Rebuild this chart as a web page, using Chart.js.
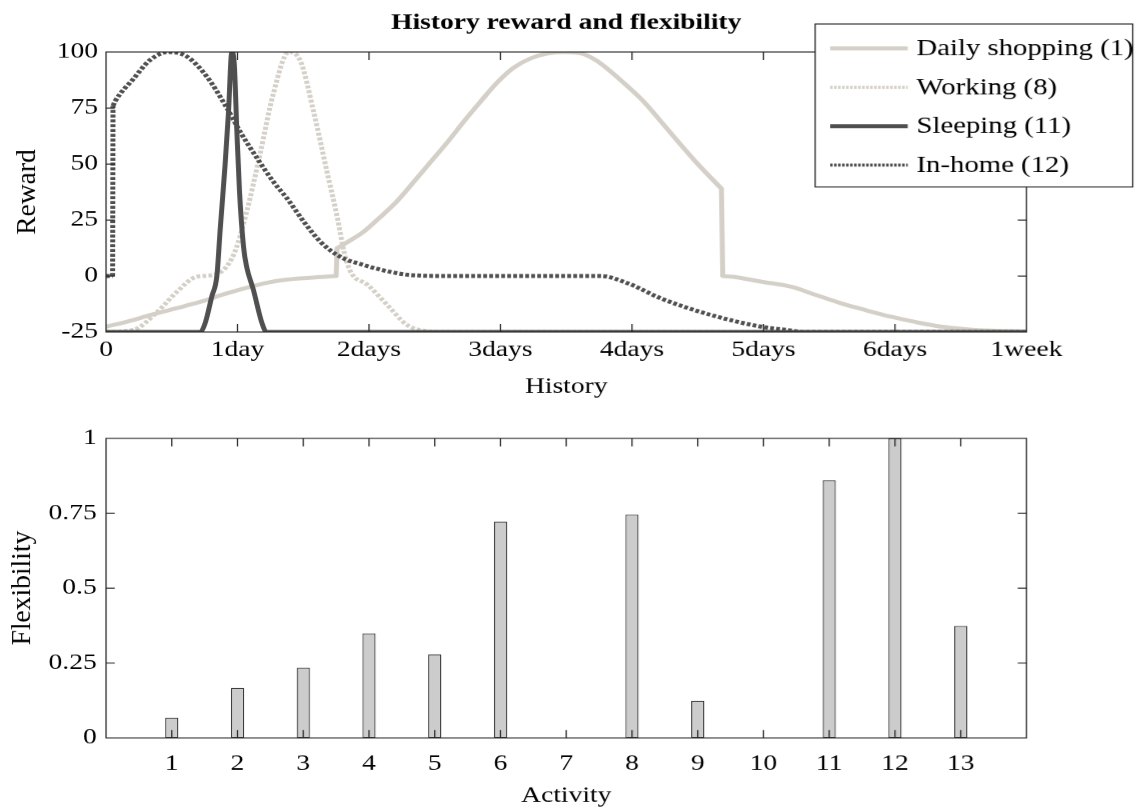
<!DOCTYPE html>
<html>
<head>
<meta charset="utf-8">
<script src="https://cdn.jsdelivr.net/npm/chart.js@4/dist/chart.umd.min.js"></script>
<style>
  html, body { margin: 0; padding: 0; background: #fff; overflow: hidden; }
  #wrap { position: relative; width: 1141px; height: 809px; }
  /* text in the reference is wide, so the canvases are stretched sideways */
  canvas { position: absolute; left: 0; transform-origin: 0 0; transform: scaleX(1.25); }
  #rewardChart { top: 0; }
  #flexChart { top: 400px; }
</style>
</head>
<body>
<div id="wrap">
  <canvas id="rewardChart" width="913" height="400"></canvas>
  <canvas id="flexChart" width="913" height="409"></canvas>
</div>
<script>
const STRETCH = 1.25;

// x ticks of the history plot (in days)
const dayTicks = ['0', '1day', '2days', '3days', '4days', '5days', '6days', '1week'];

// Daily shopping (1)
const shopDays   = [0, 0.17, 0.34, 0.52, 0.72, 0.9, 1.1, 1.22, 1.35, 1.55, 1.75,
                    1.757, 1.85, 1.96, 2.08, 2.21, 2.34, 2.47, 2.6, 2.72, 2.85, 2.98, 3.1, 3.23, 3.35, 3.48,
                    3.61, 3.72, 3.84, 3.96, 4.09, 4.22, 4.35, 4.5, 4.68,
                    4.69, 4.8, 4.98, 5.21, 5.4, 5.59, 5.78, 5.97, 6.16, 6.35, 6.55, 6.73, 7.0];
const shopReward = [-22.6, -20.2, -17.4, -14.6, -11.5, -8.1, -4.8, -3.1, -1.8, -0.8, 0,
                    12.4, 15.6, 19.8, 26, 33.2, 42, 51, 60, 68.9, 78, 86.7, 93, 97.2, 99.3, 100,
                    99.4, 96.5, 91.2, 85, 77.8, 69, 60, 50, 39,
                    0, -0.6, -2.5, -4.8, -8.5, -12.2, -15.3, -18.2, -20.6, -22.6, -23.8, -24.4, -24.8];

// Working (8)
const workDays   = [0, 0.21, 0.39, 0.54, 0.69, 0.82, 0.97, 1.07, 1.17, 1.27, 1.39, 1.48, 1.58, 1.68, 1.76, 1.81, 1.86, 1.99, 2.14, 2.29, 2.44, 2.6, 7];
const workReward = [-25, -24, -16, -7, -0.3, 0.5, 9.4, 28.7, 54, 80.8, 100, 95.7, 73, 46.6, 25.8, 10.8, 1.9, -4, -13, -21.9, -24.6, -25, -25];

// Sleeping (11)
const sleepDays   = [0, 0.716, 0.754, 0.805, 0.843, 0.868, 0.906, 0.931, 0.957, 0.975, 0.995, 1.015, 1.046, 1.07, 1.12, 1.186, 1.22, 7];
const sleepReward = [-25, -25, -21, -9, 0, 20.5, 50, 72.6, 100, 95, 65, 38, 13, 4, -6, -21, -25, -25];

// In-home (12)
const homeDays   = [0, 0.05, 0.053, 0.069, 0.208, 0.335, 0.475, 0.614, 0.767, 0.919, 1.02, 1.15, 1.274, 1.376, 1.503, 1.63, 1.78, 1.96, 2.15, 2.32, 2.6, 3.0, 3.5, 3.76, 3.97, 4.22, 4.6, 4.98, 5.22, 5.3, 7];
const homeReward = [0, 0, 76, 78, 88, 96.4, 100, 98, 89, 75, 64.4, 52.5, 42, 34.7, 24.3, 15.3, 8.6, 4.9, 2, 0.4, 0, 0, 0, 0, -3.3, -10, -17.4, -22.6, -24.4, -25, -25];

// flexibility per activity
const activities  = [1, 2, 3, 4, 5, 6, 7, 8, 9, 10, 11, 12, 13];
const flexibility = [0.067, 0.167, 0.234, 0.349, 0.279, 0.722, 0, 0.745, 0.124, 0, 0.86, 1.0, 0.374];

const LIGHT = '#d4d0c8';
const DARK = '#4f4f4f';
const AXIS = '#262626';
const SERIF = '"Liberation Serif", "Times New Roman", serif';

Chart.defaults.font.family = SERIF;
Chart.defaults.font.size = 22;
Chart.defaults.color = '#000';

function pts(xs, ys) {
  return xs.map((x, i) => ({ x: x, y: ys[i] }));
}

// vertical jumps get their own straight piece so the spline does not bulge next to them
function withJumps(xs, ys) {
  const out = [];
  xs.forEach((x, i) => {
    if (i > 0 && x - xs[i - 1] < 0.012 && Math.abs(ys[i] - ys[i - 1]) > 5) {
      const prev = { x: xs[i - 1], y: ys[i - 1] };
      out.push({ x: prev.x, y: null }, prev);
      out.push({ x: x, y: ys[i] }, { x: x, y: null });
    }
    out.push({ x: x, y: ys[i] });
  });
  return out;
}

// MATLAB style box with inward ticks
const framePlugin = {
  id: 'frame',
  afterDatasetsDraw(chart) {
    const { ctx, chartArea: a, scales } = chart;
    ctx.save();
    ctx.strokeStyle = AXIS;
    ctx.lineWidth = 1;
    ctx.strokeRect(a.left, a.top, a.right - a.left, a.bottom - a.top);
    ctx.beginPath();
    scales.x.ticks.forEach(t => {
      const px = scales.x.getPixelForValue(t.value);
      if (px < a.left + 1 || px > a.right - 1) return;
      ctx.moveTo(px, a.bottom); ctx.lineTo(px, a.bottom - 8);
      ctx.moveTo(px, a.top); ctx.lineTo(px, a.top + 8);
    });
    scales.y.ticks.forEach(t => {
      const py = scales.y.getPixelForValue(t.value);
      if (py < a.top + 1 || py > a.bottom - 1) return;
      ctx.moveTo(a.left, py); ctx.lineTo(a.left + 7, py);
      ctx.moveTo(a.right, py); ctx.lineTo(a.right - 7, py);
    });
    ctx.stroke();
    ctx.restore();
  }
};

// rotated y title, squeezed back so the sideways stretch does not thicken it
const yTitlePlugin = {
  id: 'yTitle',
  afterDraw(chart, args, opts) {
    const { ctx, chartArea: a } = chart;
    ctx.save();
    ctx.translate(opts.x, (a.top + a.bottom) / 2);
    ctx.scale(1 / STRETCH, 1);
    ctx.rotate(-Math.PI / 2);
    ctx.font = opts.size + 'px ' + SERIF;
    ctx.fillStyle = '#000';
    ctx.textAlign = 'center';
    ctx.textBaseline = 'middle';
    ctx.fillText(opts.text, 0, 0);
    ctx.restore();
  }
};

// boxed legend laid over the top right corner
const legendBox = {
  id: 'legendBox',
  afterDraw(chart) {
    const ctx = chart.ctx;
    const left = 652, top = 24, w = 254, h = 163;
    ctx.save();
    ctx.fillStyle = '#fff';
    ctx.fillRect(left, top, w, h);
    ctx.strokeStyle = AXIS;
    ctx.lineWidth = 1;
    ctx.strokeRect(left, top, w, h);
    chart.data.datasets.forEach((ds, i) => {
      const y = top + 24.3 + i * 38.9;
      ctx.strokeStyle = ds.borderColor;
      ctx.lineWidth = ds.borderDash ? 3 : ds.borderWidth;
      ctx.setLineDash(ds.borderDash ? [2, 1.2] : []);
      ctx.beginPath();
      ctx.moveTo(left + 12, y);
      ctx.lineTo(left + 74, y);
      ctx.stroke();
      ctx.setLineDash([]);
      ctx.fillStyle = '#000';
      ctx.font = '23px ' + SERIF;
      ctx.textBaseline = 'middle';
      ctx.fillText(ds.label, left + 81, y + 1);
    });
    ctx.restore();
  }
};

new Chart(document.getElementById('rewardChart'), {
  type: 'line',
  data: {
    datasets: [
      { label: 'Daily shopping (1)', data: withJumps(shopDays, shopReward), borderColor: LIGHT, borderWidth: 4, borderCapStyle: 'round', order: 4 },
      { label: 'Working (8)', data: pts(workDays, workReward), borderColor: LIGHT, borderWidth: 4, borderDash: [3, 1.8], order: 3 },
      { label: 'Sleeping (11)', data: pts(sleepDays, sleepReward), borderColor: DARK, borderWidth: 4, order: 2 },
      { label: 'In-home (12)', data: withJumps(homeDays, homeReward), borderColor: DARK, borderWidth: 4, borderDash: [3, 1.8], order: 1 }
    ]
  },
  options: {
    responsive: false,
    animation: false,
    devicePixelRatio: STRETCH,
    layout: { padding: { top: 0, right: 92, bottom: 0, left: 0 } },
    elements: { point: { radius: 0 }, line: { cubicInterpolationMode: 'monotone', borderCapStyle: 'butt', borderJoinStyle: 'round' } },
    plugins: {
      legend: { display: false },
      tooltip: { enabled: false },
      title: {
        display: true,
        text: 'History reward and flexibility',
        fullSize: false,
        font: { size: 22, weight: 'bold' },
        padding: { top: 10, bottom: 15.6 }
      },
      yTitle: { text: 'Reward', x: 22.4, size: 27.5 }
    },
    scales: {
      x: {
        type: 'linear', min: 0, max: 7,
        grid: { display: false, drawTicks: false },
        border: { display: false },
        ticks: { stepSize: 1, padding: 5, maxRotation: 0, callback: v => dayTicks[v] },
        title: { display: true, text: 'History', padding: { top: 2, bottom: 0 } },
        afterFit: s => { s.height = 68; }
      },
      y: {
        min: -25, max: 100,
        grid: { display: false, drawTicks: false },
        border: { display: false },
        ticks: { stepSize: 25, padding: 6.4 },
        afterFit: s => { s.width = 84.8; }
      }
    }
  },
  plugins: [framePlugin, yTitlePlugin, legendBox]
});

new Chart(document.getElementById('flexChart'), {
  type: 'bar',
  data: {
    datasets: [{
      label: 'Flexibility',
      data: pts(activities, flexibility),
      backgroundColor: '#cccccc',
      borderColor: '#333333',
      borderWidth: 1,
      borderSkipped: false,
      barPercentage: 0.2,
      categoryPercentage: 1
    }]
  },
  options: {
    responsive: false,
    animation: false,
    devicePixelRatio: STRETCH,
    layout: { padding: { top: 38.3, right: 92, bottom: 0, left: 0 } },
    plugins: {
      legend: { display: false },
      tooltip: { enabled: false },
      yTitle: { text: 'Flexibility', x: 18, size: 27.5 }
    },
    scales: {
      x: {
        type: 'linear', min: 0, max: 14, offset: false,
        grid: { display: false, drawTicks: false },
        border: { display: false },
        ticks: { stepSize: 1, padding: 13, autoSkip: false, maxRotation: 0,
                 callback: v => (v >= 1 && v <= 13 ? String(v) : '') },
        title: { display: true, text: 'Activity', padding: { top: 1, bottom: 0 } },
        afterFit: s => { s.height = 71.3; }
      },
      y: {
        min: 0, max: 1,
        grid: { display: false, drawTicks: false },
        border: { display: false },
        ticks: { stepSize: 0.25, padding: 7.5, callback: v => String(v) },
        afterFit: s => { s.width = 84.8; }
      }
    }
  },
  plugins: [framePlugin, yTitlePlugin]
});
</script>
</body>
</html>
